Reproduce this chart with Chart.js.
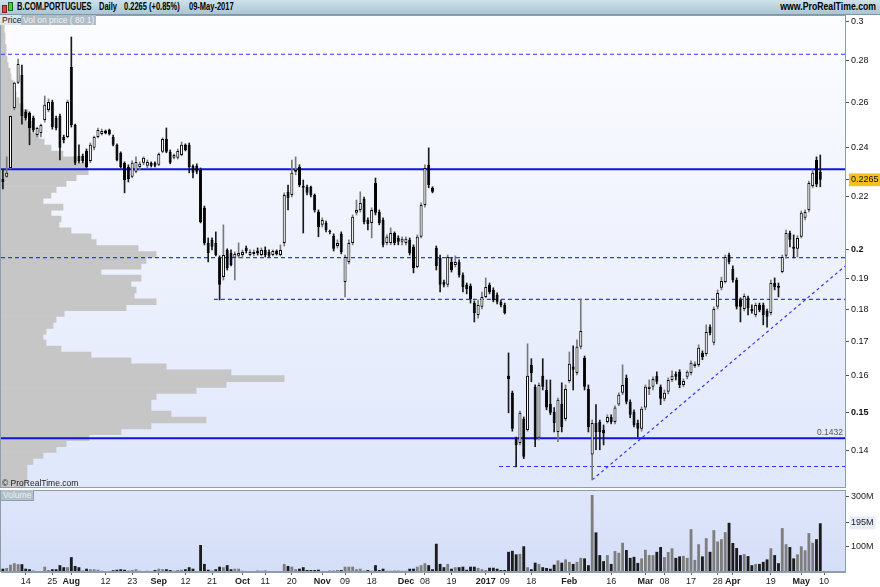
<!DOCTYPE html>
<html>
<head>
<meta charset="utf-8">
<script src="https://cdn.jsdelivr.net/npm/chart.js@4.4.1/dist/chart.umd.min.js"></script>
<style>
  html,body{margin:0;padding:0;background:#fff;}
  body{width:880px;height:587px;position:relative;overflow:hidden;font-family:'Liberation Sans',Arial,sans-serif;}
  #title{position:absolute;left:0;top:0;width:880px;height:14px;background:linear-gradient(#cfe1ea,#a9c6d4);border-bottom:1px solid #7f98a6;}
  #title span{position:absolute;top:1px;font-size:10px;font-weight:bold;color:#000;white-space:nowrap;line-height:12px;transform-origin:0 50%;transform:scaleX(0.75);}
  #title span.r{transform-origin:100% 50%;transform:scaleX(0.87);}
  .tab{position:absolute;top:15px;height:10px;line-height:10px;font-size:8.5px;padding:0 2px;white-space:nowrap;}
  canvas{position:absolute;left:0;}
</style>
</head>
<body>
<div id="title">
  <div style="position:absolute;left:2px;top:5px;width:3px;height:6px;background:#e04040;border:1px solid #802020;"></div>
  <div style="position:absolute;left:8px;top:2px;width:3px;height:7px;background:#40d040;border:1px solid #206020;"></div>
  <span style="left:17px">B.COM.PORTUGUES</span>
  <span style="left:99px">Daily</span>
  <span style="left:124px">0.2265 (+0.85%)</span>
  <span style="left:189px">09-May-2017</span>
  <span class="r" style="right:4px">www.ProRealTime.com</span>
</div>
<canvas id="pc" width="880" height="473" style="top:15px"></canvas>
<canvas id="vc" width="880" height="98" style="top:489px"></canvas>
<div class="tab" style="left:0;background:#dde4eb;color:#222;">Price</div>
<div class="tab" style="left:21px;background:#aebcc6;color:#eef2f5;">Vol on price ( 80 1)</div>
<div style="position:absolute;left:2px;top:478px;font-size:8.5px;color:#222;">© ProRealTime.com</div>
<div style="position:absolute;left:1px;top:490px;height:10px;line-height:10px;font-size:8.5px;padding:0 2px;background:#b2c1c9;color:#e9eef1;border-right:1px solid #8fa0aa;border-bottom:1px solid #8fa0aa;">Volume</div>
<script>
// ---------------- DATA ----------------
const holidays = ['2016-12-26','2017-04-14','2017-04-17','2017-05-01'];
const firstDay = '2016-07-06';
const lastAxisDay = '2017-05-17';

const open = [
.2268,.2277,.2313,.2573,.2690,.2728,.2555,.2550,.2527,.2452,
.2461,.2518,.2564,.2600,.2527,.2536,.2444,.2444,.2767,.2496,
.2363,.2363,.2384,.2342,.2397,.2444,.2457,.2470,.2474,.2444,
.2410,.2376,.2334,.2317,.2277,.2297,.2317,.2334,.2322,.2334,
.2334,.2326,.2380,.2435,.2380,.2355,.2355,.2367,.2410,.2410,
.2322,.2322,.2305,.2155,.2025,.2036,.2025,.1972,.1906,.2000,
.1989,.1972,.1979,.1982,.2007,.1982,.1986,.1996,.1982,.2000,
.1993,.1982,.1996,.1982,.2025,.2217,.2205,.2297,.2317,.2240,
.2237,.2237,.2205,.2139,.2091,.2098,.2068,.2051,.2014,.2058,
.1889,.1958,.2025,.2136,.2147,.2189,.2109,.2098,.2252,.2139,
.2109,.2025,.2025,.2061,.2043,.2029,.2025,.2036,.2011,.1940,
.2047,.2166,.2326,.2233,.2007,.1972,.1889,.1880,.1958,.1947,
.1958,.1913,.1880,.1876,.1820,.1782,.1808,.1840,.1880,.1863,
.1847,.1824,.1814,.1600,.1552,.1430,.1420,.1482,.1453,.1631,
.1569,.1433,.1600,.1560,.1522,.1501,.1448,.1522,.1482,.1585,
.1626,.1608,.1684,.1652,.1563,.1391,.1471,.1474,.1453,.1474,
.1487,.1474,.1520,.1552,.1594,.1528,.1501,.1471,.1456,.1512,
.1563,.1569,.1600,.1569,.1536,.1555,.1588,.1605,.1611,.1574,
.1597,.1608,.1628,.1631,.1666,.1663,.1744,.1696,.1808,.1870,
.1889,.1982,.1933,.1896,.1830,.1801,.1837,.1801,.1782,.1814,
.1814,.1795,.1788,.1886,.1876,.1923,.1979,.2061,.2011,.2004,
.2047,.2117,.2147,.2240,.2346,.2297];

const high = [
.2305,.2359,.2536,.2694,.2806,.2776,.2564,.2555,.2536,.2487,
.2500,.2628,.2614,.2609,.2536,.2545,.2452,.2609,.2918,.2500,
.2410,.2371,.2392,.2418,.2448,.2483,.2478,.2474,.2478,.2452,
.2414,.2380,.2338,.2326,.2342,.2359,.2338,.2359,.2346,.2338,
.2338,.2376,.2440,.2483,.2388,.2371,.2392,.2422,.2414,.2418,
.2326,.2330,.2313,.2162,.2043,.2043,.2065,.1979,.2091,.2004,
.2000,.1993,.2025,.2000,.2014,.2000,.2000,.2007,.2007,.2011,
.2000,.2000,.2000,.2018,.2213,.2244,.2346,.2359,.2326,.2264,
.2244,.2240,.2209,.2147,.2117,.2105,.2072,.2058,.2036,.2065,
.1982,.2036,.2128,.2185,.2217,.2197,.2117,.2155,.2272,.2147,
.2117,.2054,.2080,.2065,.2051,.2047,.2047,.2043,.2018,.2054,
.2174,.2326,.2397,.2237,.2014,.1982,.1896,.1982,.1972,.1979,
.1965,.1920,.1886,.1883,.1827,.1830,.1856,.1903,.1886,.1870,
.1853,.1830,.1820,.1666,.1557,.1435,.1503,.1487,.1693,.1649,
.1574,.1580,.1649,.1588,.1588,.1512,.1538,.1580,.1574,.1669,
.1687,.1705,.1833,.1657,.1574,.1479,.1520,.1479,.1466,.1493,
.1493,.1517,.1552,.1631,.1602,.1533,.1506,.1479,.1514,.1574,
.1588,.1597,.1611,.1574,.1560,.1594,.1614,.1611,.1617,.1591,
.1614,.1643,.1640,.1690,.1672,.1751,.1751,.1808,.1863,.1906,
.1982,.1989,.1944,.1903,.1837,.1850,.1843,.1814,.1820,.1820,
.1820,.1801,.1896,.1903,.1886,.1982,.2072,.2068,.2054,.2051,
.2143,.2147,.2260,.2305,.2359,.2367];

const low = [
.2229,.2275,.2309,.2564,.2686,.2500,.2518,.2410,.2465,.2444,
.2444,.2509,.2555,.2478,.2474,.2346,.2418,.2440,.2487,.2326,
.2334,.2334,.2313,.2334,.2388,.2440,.2452,.2457,.2452,.2405,
.2342,.2313,.2213,.2256,.2272,.2293,.2305,.2326,.2313,.2317,
.2317,.2322,.2376,.2376,.2330,.2350,.2350,.2363,.2384,.2293,
.2272,.2289,.2098,.2018,.1958,.2000,.1979,.1830,.1896,.1930,
.1944,.1896,.1972,.1972,.1989,.1979,.1979,.1982,.1979,.1975,
.1975,.1979,.1982,.1979,.2014,.2147,.2197,.2285,.2237,.2061,
.2205,.2197,.2139,.2047,.2083,.2065,.2058,.1996,.2007,.1986,
.1840,.1951,.2018,.2128,.2139,.2094,.2072,.2043,.2128,.2091,
.2011,.2018,.2018,.2018,.2018,.2018,.2018,.1982,.1920,.1937,
.2043,.2158,.2233,.2213,.1930,.1856,.1873,.1873,.1923,.1940,
.1906,.1856,.1850,.1820,.1760,.1772,.1801,.1837,.1850,.1824,
.1817,.1808,.1785,.1498,.1450,.1361,.1415,.1381,.1450,.1583,
.1411,.1428,.1560,.1506,.1493,.1448,.1423,.1448,.1477,.1580,
.1560,.1602,.1678,.1560,.1448,.1330,.1403,.1403,.1415,.1471,
.1469,.1469,.1517,.1547,.1522,.1485,.1461,.1435,.1450,.1506,
.1547,.1560,.1577,.1520,.1530,.1549,.1583,.1588,.1566,.1569,
.1591,.1602,.1623,.1626,.1646,.1657,.1720,.1690,.1801,.1863,
.1886,.1951,.1889,.1801,.1760,.1795,.1782,.1788,.1776,.1792,
.1751,.1744,.1782,.1863,.1840,.1920,.1972,.2011,.1972,.1975,
.2043,.2109,.2139,.2233,.2237,.2237];

const close = [
.2256,.2293,.2536,.2690,.2781,.2536,.2527,.2483,.2474,.2483,
.2496,.2587,.2600,.2487,.2483,.2397,.2431,.2600,.2496,.2334,
.2342,.2342,.2317,.2410,.2444,.2474,.2470,.2461,.2457,.2410,
.2346,.2317,.2264,.2268,.2334,.2338,.2330,.2355,.2338,.2322,
.2322,.2371,.2435,.2380,.2334,.2367,.2384,.2410,.2388,.2317,
.2293,.2297,.2102,.2025,.1989,.2011,.1982,.1880,.1982,.1937,
.1947,.1986,.1989,.1993,.1996,.1993,.1993,.1989,.2000,.1982,
.1979,.1996,.1986,.2000,.2205,.2193,.2293,.2305,.2244,.2233,
.2213,.2205,.2147,.2083,.2109,.2072,.2065,.2004,.2025,.1993,
.1975,.2025,.2121,.2147,.2174,.2102,.2094,.2147,.2136,.2098,
.2018,.2047,.2061,.2025,.2029,.2040,.2040,.1989,.1937,.2047,
.2166,.2313,.2244,.2217,.1944,.1880,.1880,.1975,.1930,.1958,
.1913,.1873,.1866,.1833,.1788,.1814,.1840,.1873,.1856,.1830,
.1824,.1814,.1788,.1591,.1456,.1415,.1498,.1386,.1600,.1608,
.1428,.1574,.1569,.1512,.1498,.1471,.1533,.1461,.1563,.1634,
.1617,.1684,.1732,.1569,.1461,.1471,.1448,.1448,.1445,.1487,
.1474,.1512,.1547,.1574,.1528,.1493,.1466,.1456,.1509,.1569,
.1569,.1591,.1583,.1536,.1552,.1588,.1600,.1597,.1574,.1585,
.1611,.1637,.1634,.1681,.1654,.1729,.1726,.1801,.1853,.1893,
.1975,.1958,.1896,.1808,.1808,.1843,.1804,.1795,.1814,.1798,
.1782,.1776,.1886,.1873,.1870,.1975,.2061,.2036,.2004,.2043,
.2136,.2139,.2252,.2293,.2246,.2265];

// volume, millions of shares
const volume = [
13,16,29,35,31,31,13,11,5,4,
3,21,8,11,11,27,19,19,59,24,
19,5,13,11,11,9,5,3,2,7,
9,11,9,5,8,11,5,3,5,3,
8,13,11,11,8,5,8,9,11,19,
13,3,107,32,9,5,11,21,19,27,
11,13,13,5,4,4,3,5,5,5,
3,4,3,3,32,24,21,11,13,19,
8,8,8,9,3,3,5,5,8,8,
21,21,21,11,13,5,8,5,27,8,
13,5,5,5,5,5,5,13,13,21,
27,35,27,11,112,32,19,32,13,19,
19,21,9,21,21,16,11,8,17,17,
13,8,8,80,84,70,72,102,19,11,
37,32,19,16,13,29,46,37,50,40,
32,40,56,54,27,305,157,67,43,67,
32,83,76,116,87,56,60,36,54,88,
67,67,80,99,59,79,94,56,62,64,
56,170,48,110,62,134,80,166,121,130,
158,195,115,95,67,71,63,27,32,32,
40,50,94,67,35,174,110,99,54,70,
102,86,154,116,130,193];

// volume-on-price profile, 80 price bins from top of the panel to the bottom
const profileVolume = [
7,11,11,14,14,18,18,21,25,32,
35,42,49,53,63,77,95,88,112,105,
133,151,175,217,263,298,305,263,228,193,
175,147,217,175,210,203,245,315,333,480,
543,508,490,350,490,455,473,466,543,438,
221,193,182,158,147,158,210,315,455,578,
805,991,788,683,543,525,525,595,718,525,
420,308,228,193,147,112,91,91,91,84];
const profileMax = 2954;

const priceMin = 0.1311, priceMax = 0.3034;
const priceTicks = [0.14,0.15,0.16,0.17,0.18,0.19,0.2,0.22,0.24,0.26,0.28,0.3];
const boldPriceTicks = [0.15,0.2];
const volMax = 325;
const volTicks = [100,195,300];
const lastVolume = 195;

const solidLevels = [0.2308, 0.1432];
const dashedLevels = [[0.2830,null],[0.1973,null],[0.1832,'2016-09-22'],[0.1362,'2017-01-06']];
const trendStart = ['2017-02-09', 0.1330];
const trendEndValue = 0.1943;
const supportLabel = '0.1432';

const dateTicks = [
['2016-07-14','14'],['2016-07-25','25'],['2016-08-01','Aug'],['2016-08-12','12'],['2016-08-23','23'],
['2016-09-01','Sep'],['2016-09-12','12'],['2016-09-21','21'],['2016-10-03','Oct'],['2016-10-11','11'],
['2016-10-20','20'],['2016-11-01','Nov'],['2016-11-09','09'],['2016-11-18','18'],['2016-12-01','Dec'],
['2016-12-08','08'],['2016-12-19','19'],['2017-01-02','2017'],['2017-01-09','09'],['2017-01-18','18'],
['2017-02-01','Feb'],['2017-02-16','16'],['2017-03-01','Mar'],['2017-03-08','08'],['2017-03-17','17'],
['2017-03-28','28'],['2017-04-03','Apr'],['2017-04-19','19'],['2017-05-02','May'],['2017-05-10','10']];
const boldDateLabels = ['Aug','Sep','Oct','Nov','Dec','2017','Feb','Mar','Apr','May'];

// ---------------- BUILD ----------------
const dates = (() => {
  const out = [];
  const d = new Date(firstDay + 'T00:00:00Z');
  const end = new Date(lastAxisDay + 'T00:00:00Z').getTime();
  while (d.getTime() <= end) {
    const w = d.getUTCDay(), s = d.toISOString().slice(0,10);
    if (w !== 0 && w !== 6 && !holidays.includes(s)) out.push(s);
    d.setUTCDate(d.getUTCDate() + 1);
  }
  return out;
})();
const N = dates.length;
const lastClose = close[close.length-1];
const FONT = "'Liberation Sans', Arial, sans-serif";
Chart.defaults.font.family = FONT;

const isDown = i => close[i] < open[i];
const wicks = dates.map((d,i) => i < close.length ? [low[i], high[i]] : null);
const bodies = dates.map((d,i) => i < close.length ? [open[i], close[i]] : null);
const vols = dates.map((d,i) => i < volume.length ? volume[i] : null);

const leftEdge = -0.5, rightEdge = N - 0.5;
const lineSets = [];
solidLevels.forEach(v => lineSets.push({type:'line', xAxisID:'xl', yAxisID:'y', order:5,
  data:[{x:leftEdge,y:v},{x:rightEdge,y:v}], borderColor:'#1212e6', borderWidth:2, pointRadius:0, fill:false}));
dashedLevels.forEach(([v,start]) => lineSets.push({type:'line', xAxisID:'xl', yAxisID:'y', order:5,
  data:[{x: start ? dates.indexOf(start) - 0.5 : leftEdge, y:v},{x:rightEdge,y:v}],
  borderColor:'#3434ff', borderWidth:1.2, borderDash:[4,3], pointRadius:0, fill:false}));
lineSets.push({type:'line', xAxisID:'xl', yAxisID:'y', order:5,
  data:[{x:dates.indexOf(trendStart[0]), y:trendStart[1]},{x:rightEdge, y:trendEndValue}],
  borderColor:'#3434ff', borderWidth:1.2, borderDash:[3,3], pointRadius:0, fill:false});

const panelBg = {
  id:'panelBg',
  beforeDraw(chart, args, o) {
    const {ctx, chartArea:a} = chart;
    const g = ctx.createLinearGradient(0, a.top, 0, a.bottom);
    g.addColorStop(0, o.top); g.addColorStop(1, o.bottom);
    ctx.save(); ctx.fillStyle = g; ctx.fillRect(a.left, a.top, a.right-a.left, a.bottom-a.top); ctx.restore();
  },
  afterDraw(chart, args, o) {
    const {ctx, chartArea:a} = chart;
    ctx.save(); ctx.strokeStyle = '#8e9daa'; ctx.lineWidth = 1;
    ctx.strokeRect(Math.floor(a.left)-0.5, Math.floor(a.top)+0.5, Math.round(a.right-a.left)+1, Math.round(a.bottom-a.top)-1);
    ctx.restore();
  }
};
const levelLabel = {
  id:'levelLabel',
  afterDatasetsDraw(chart) {
    const {ctx, chartArea:a, scales:{y}} = chart;
    ctx.save(); ctx.font = '8.5px ' + FONT; ctx.fillStyle = '#555'; ctx.textAlign = 'right'; ctx.textBaseline = 'bottom';
    ctx.fillText(supportLabel, a.right - 2, y.getPixelForValue(parseFloat(supportLabel)) - 1);
    ctx.restore();
  }
};

const hidden = (extra) => Object.assign({type:'linear', display:false, offset:false, grid:{offset:false}}, extra);

new Chart(document.getElementById('pc'), {
  type:'bar',
  data:{ labels: dates, datasets:[
    {label:'profile', indexAxis:'y', xAxisID:'xp', yAxisID:'yp', order:10, grouped:false,
     data: profileVolume.map((v,j) => ({x:v, y:j+0.5})), backgroundColor:'#c6c6c6',
     barPercentage:1, categoryPercentage:1, borderWidth:0},
    ...lineSets,
    {label:'wick', xAxisID:'x', yAxisID:'y', order:2, grouped:false, data: wicks, barThickness:1,
     backgroundColor: c => isDown(c.dataIndex) ? '#1a1a1a' : '#7a7a7a', borderWidth:0},
    {label:'body', xAxisID:'x', yAxisID:'y', order:1, grouped:false, data: bodies,
     barPercentage:0.8, categoryPercentage:1, borderSkipped:false, borderWidth:1, borderColor:'#000',
     backgroundColor: c => isDown(c.dataIndex) ? '#000' : '#fff'}
  ]},
  options:{
    responsive:false, animation:false, devicePixelRatio:1,
    layout:{padding:{left:1, top:0, right:0, bottom:0}},
    plugins:{legend:{display:false}, tooltip:{enabled:false}, panelBg:{top:'#fdfdff', bottom:'#dfe7fb'}},
    scales:{
      x:{type:'category', offset:true, display:false},
      xl: hidden({min:leftEdge, max:rightEdge}),
      xp: hidden({min:0, max:profileMax}),
      yp: hidden({min:0, max:profileVolume.length, reverse:true}),
      y:{type:'logarithmic', position:'right', min:priceMin, max:priceMax,
        afterBuildTicks: s => { s.ticks = priceTicks.concat([lastClose]).map(v => ({value:v})); },
        afterFit: s => { s.width = 35; s.paddingTop = 0; s.paddingBottom = 0; },
        grid:{drawOnChartArea:false, drawTicks:true, tickLength:4, color:'#555'},
        border:{display:true, color:'#8e9daa'},
        ticks:{autoSkip:false, padding:2, color:'#111',
          callback: v => String(v),
          font: c => ({size:9, family:FONT, weight: (c.tick && boldPriceTicks.includes(c.tick.value)) ? 'bold' : 'normal'}),
          showLabelBackdrop: c => !!(c.tick && c.tick.value === lastClose),
          backdropColor:'#f2c21b', backdropPadding:{top:1,bottom:1,left:2,right:3}}
      }
    }
  },
  plugins:[panelBg, levelLabel]
});

const tickIdx = dateTicks.map(([d,l]) => ({value: dates.indexOf(d), label: l}));
const labelAt = {}; tickIdx.forEach(t => labelAt[t.value] = t.label);

new Chart(document.getElementById('vc'), {
  type:'bar',
  data:{ labels: dates, datasets:[
    {label:'Volume', data: vols, barPercentage:0.75, categoryPercentage:1, borderWidth:0,
     backgroundColor: c => isDown(c.dataIndex) ? '#1c1c1c' : '#7e7e7e'}
  ]},
  options:{
    responsive:false, animation:false, devicePixelRatio:1,
    layout:{padding:{left:1, top:1, right:0, bottom:0}},
    plugins:{legend:{display:false}, tooltip:{enabled:false}, panelBg:{top:'#dfe6fb', bottom:'#d5def8'}},
    scales:{
      x:{type:'category', offset:true,
        afterBuildTicks: s => { s.ticks = tickIdx.map(t => ({value:t.value})); },
        afterFit: s => { s.height = 15; s.paddingLeft = 0; s.paddingRight = 0; },
        grid:{drawOnChartArea:false, drawTicks:true, tickLength:3, color:'#666', offset:false},
        border:{display:true, color:'#8e9daa'},
        ticks:{autoSkip:false, maxRotation:0, padding:1, color:'#222',
          callback: v => labelAt[v],
          font: c => ({size:9, family:FONT, weight: (c.tick && boldDateLabels.includes(labelAt[c.tick.value])) ? 'bold' : 'normal'})}
      },
      y:{type:'linear', position:'right', min:0, max:volMax,
        afterBuildTicks: s => { s.ticks = volTicks.map(v => ({value:v})); },
        afterFit: s => { s.width = 35; s.paddingTop = 0; s.paddingBottom = 0; },
        grid:{drawOnChartArea:false, drawTicks:true, tickLength:4, color:'#555'},
        border:{display:true, color:'#8e9daa'},
        ticks:{autoSkip:false, padding:2, color:'#222', font:{size:9},
          callback: v => v + 'M',
          showLabelBackdrop: c => !!(c.tick && c.tick.value === lastVolume),
          backdropColor:'#e6ecf8', backdropPadding:{top:1,bottom:1,left:1,right:2}}
      }
    }
  },
  plugins:[panelBg]
});
</script>
</body>
</html>
